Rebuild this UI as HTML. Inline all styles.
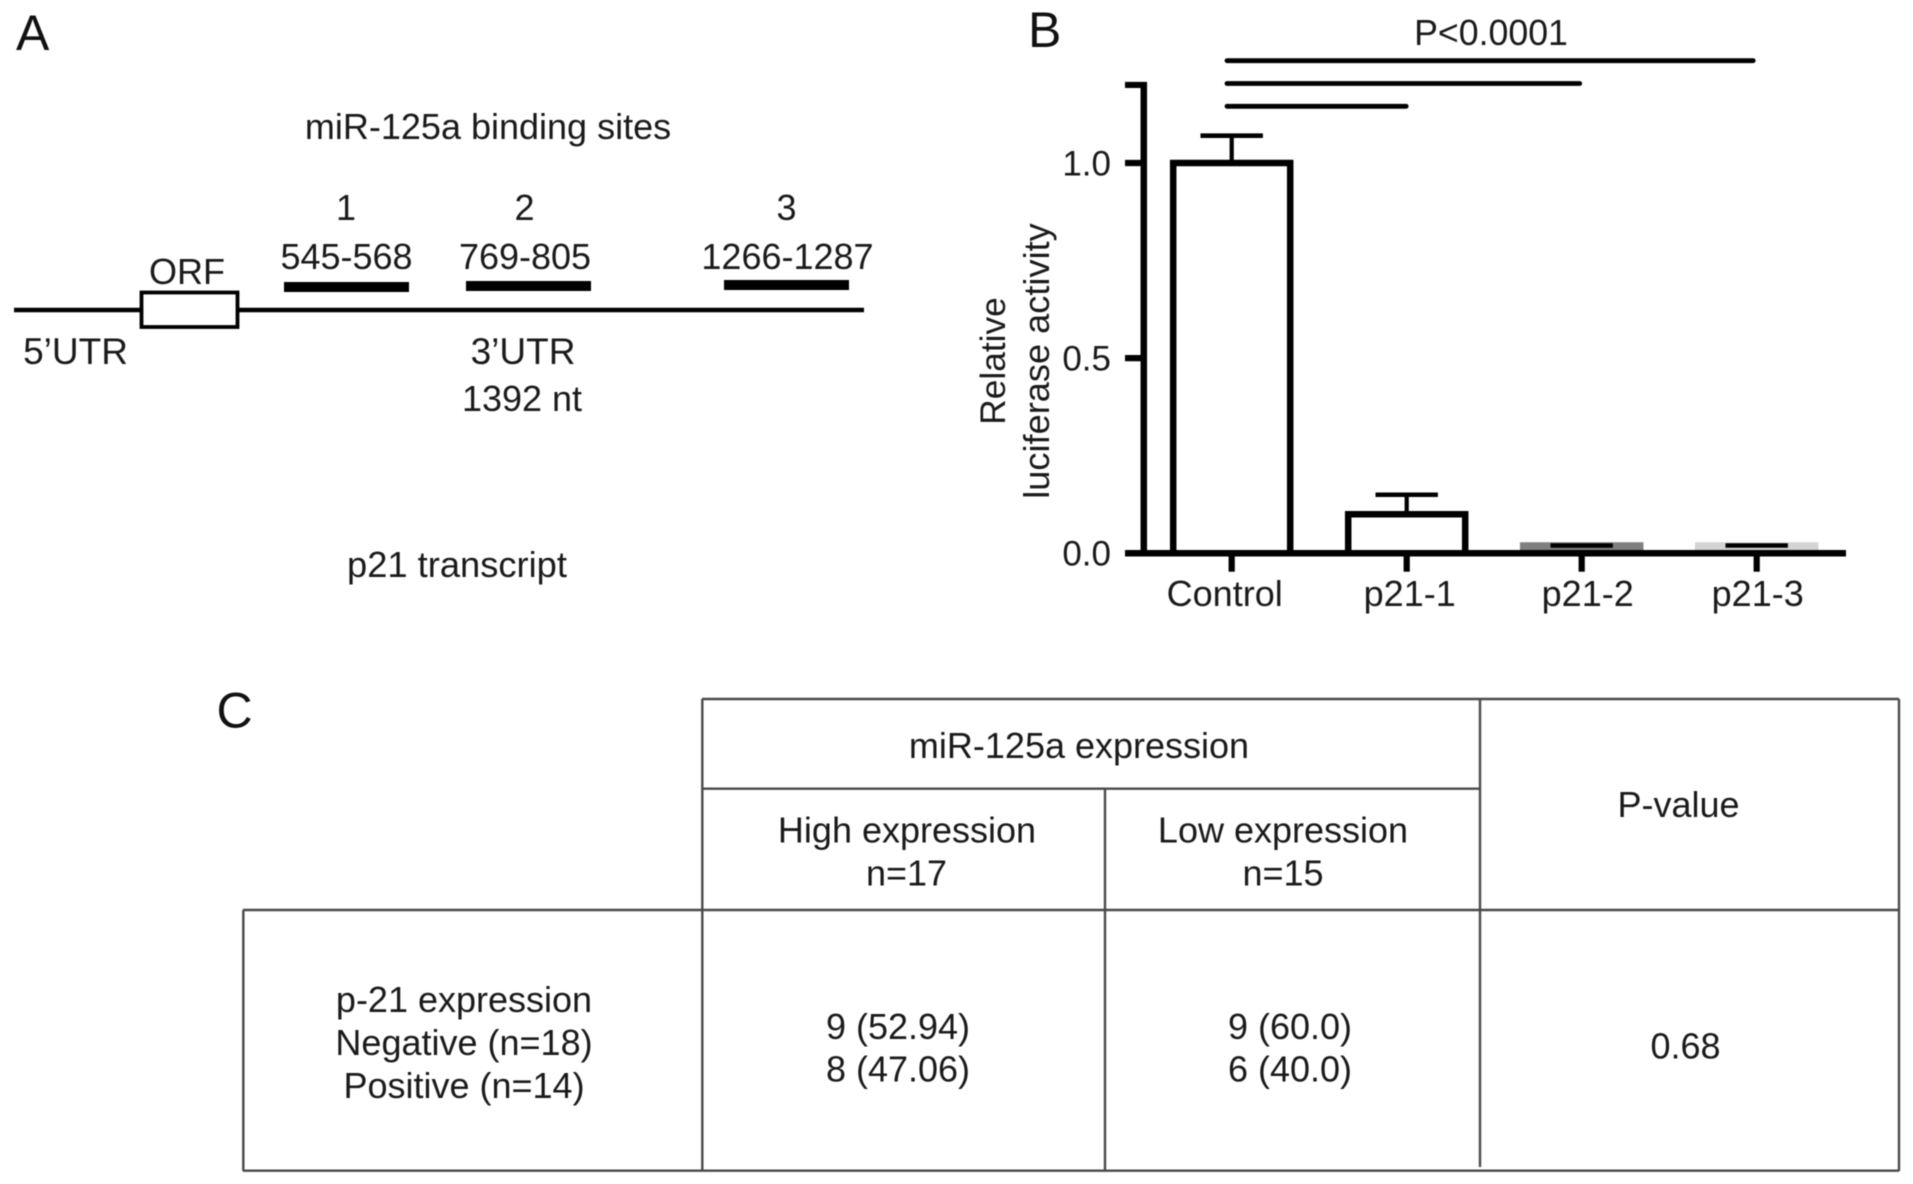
<!DOCTYPE html>
<html lang="en">
<head>
<meta charset="utf-8">
<title>miR-125a binding sites and p21 luciferase activity</title>
<style>
  html, body { margin: 0; padding: 0; background: #fff; }
  svg { display: block; filter: blur(0.5px); }
  text { font-family: "Liberation Sans", sans-serif; font-size: 36px; fill: #1a1a1a; text-anchor: middle; }
  .panel { font-size: 50px; text-anchor: start; fill: #111; }
  .tl { stroke: #4a4a4a; stroke-width: 2.4; fill: none; }
  .blk { stroke: #000; fill: none; }
</style>
</head>
<body>
<svg id="figure" xmlns="http://www.w3.org/2000/svg" width="1913" height="1184" viewBox="0 0 1913 1184">
  <rect width="1913" height="1184" fill="#fff"/>

  <!-- Panel A -->
  <g id="panel-a">
    <text class="panel" x="16" y="50">A</text>
    <text x="488" y="139">miR-125a binding sites</text>
    <text x="346" y="220">1</text>
    <text x="524.5" y="220">2</text>
    <text x="786.5" y="220">3</text>
    <text x="346.5" y="269">545-568</text>
    <text x="525" y="269">769-805</text>
    <text x="787.5" y="269">1266-1287</text>
    <text x="187" y="284">ORF</text>
    <rect x="284" y="282" width="125" height="10" fill="#000"/>
    <rect x="466" y="281" width="125" height="10" fill="#000"/>
    <rect x="724" y="280" width="125" height="10" fill="#000"/>
    <line class="blk" x1="14" y1="310" x2="864" y2="310" stroke-width="4.5"/>
    <rect x="141.5" y="292.5" width="96" height="34.5" fill="#fff" stroke="#000" stroke-width="3.8"/>
    <text x="75.5" y="364" style="font-size:37px">5’UTR</text>
    <text x="523" y="364" style="font-size:37px">3’UTR</text>
    <text x="522" y="411">1392 nt</text>
    <text x="457" y="577" style="font-size:36.3px">p21 transcript</text>
  </g>

  <!-- Panel B: drawn by script -->
  <g id="panel-b">
    <text class="panel" x="1028" y="47">B</text>
    <text x="1491" y="45" style="font-size:35.7px">P&lt;0.0001</text>
    <text transform="translate(1005,361) rotate(-90)" style="font-size:35.3px">Relative</text>
    <text transform="translate(1049,361) rotate(-90)" style="font-size:36.2px">luciferase activity</text>
  </g>

  <!-- Panel C -->
  <g id="panel-c">
    <text class="panel" x="216.5" y="727.5">C</text>
    <line class="tl" x1="702" y1="699" x2="1899" y2="699"/>
    <line class="tl" x1="702" y1="788.7" x2="1481" y2="788.7"/>
    <line class="tl" x1="243" y1="910" x2="1899" y2="910"/>
    <line class="tl" x1="243" y1="1170.7" x2="1899" y2="1170.7"/>
    <line class="tl" x1="243.3" y1="910" x2="243.3" y2="1171"/>
    <line class="tl" x1="702.3" y1="699" x2="702.3" y2="1171"/>
    <line class="tl" x1="1105" y1="788.7" x2="1105" y2="1171"/>
    <line class="tl" x1="1480" y1="699" x2="1480" y2="1167"/>
    <line class="tl" x1="1899" y1="699" x2="1899" y2="1171"/>

    <text x="1079" y="758">miR-125a expression</text>
    <text x="1678.5" y="817">P-value</text>
    <text x="907" y="842.5">High expression</text>
    <text x="906.5" y="885.5">n=17</text>
    <text x="1283" y="842.5">Low expression</text>
    <text x="1283" y="885.5">n=15</text>
    <text x="464" y="1012">p-21 expression</text>
    <text x="464" y="1055">Negative (n=18)</text>
    <text x="464" y="1098">Positive (n=14)</text>
    <text x="898" y="1039">9 (52.94)</text>
    <text x="898" y="1081.5">8 (47.06)</text>
    <text x="1290" y="1039">9 (60.0)</text>
    <text x="1290" y="1081.5">6 (40.0)</text>
    <text x="1685.5" y="1058.3">0.68</text>
  </g>
</svg>

<script>
const categories = ['Control', 'p21-1', 'p21-2', 'p21-3'];
const barValues = [1.0, 0.1, 0.02, 0.02];
const errorValues = [0.07, 0.05, 0, 0];
const yTickValues = [0, 0.5, 1.0];
const yTickLabels = ['0.0', '0.5', '1.0'];
const yAxisMax = 1.2;
const comparisons = ['p21-1', 'p21-2', 'p21-3'];

const barColors = ['#000', '#000', '#7f7f7f', '#d4d4d4'];
const barFills = ['#fff', '#fff', '#7f7f7f', '#d4d4d4'];
const labelNudge = [-7, 3, 6, 1];

const SVGNS = 'http://www.w3.org/2000/svg';
const panelB = document.getElementById('panel-b');

function xPos(i) { return 1231.7 + 175 * i; }
function yPos(v) { return 553.3 - 390.3 * v; }

function make(tag, attrs) {
  const el = document.createElementNS(SVGNS, tag);
  for (const k in attrs) el.setAttribute(k, attrs[k]);
  panelB.appendChild(el);
  return el;
}

// Bars
categories.forEach(function (cat, i) {
  const cx = xPos(i);
  const top = yPos(barValues[i]);
  const bar = make('path', {
    d: 'M' + (cx - 58.5) + ' ' + yPos(0) + 'V' + top + 'H' + (cx + 58.5) + 'V' + yPos(0) + 'Z',
    fill: barFills[i], stroke: barColors[i], 'stroke-width': 6.5, 'stroke-linejoin': 'miter'
  });
  
  
});

// Error bars
categories.forEach(function (cat, i) {
  const cx = xPos(i);
  const hi = yPos(barValues[i] + errorValues[i]);
  const stem = make('line', { x1: cx, x2: cx, y1: yPos(barValues[i]), y2: hi, stroke: '#000', 'stroke-width': 4.2 });
  
  
  const cap = make('line', { x1: cx - 31.2, x2: cx + 31.2, y1: hi, y2: hi, stroke: '#000', 'stroke-width': 4.6 });
  
  
});

// Y axis
const yAxisLine = make('line', { x1: 1143.8, x2: 1143.8, y1: yPos(yAxisMax) - 3, y2: yPos(0), stroke: '#000', 'stroke-width': 6.5 });



const yTopTick = make('line', { x1: 1125, x2: 1147, y1: yPos(yAxisMax), y2: yPos(yAxisMax), stroke: '#000', 'stroke-width': 6.2 });



yTickValues.forEach(function (v, i) {
  const tick = make('line', { x1: 1125, x2: 1147, y1: yPos(v), y2: yPos(v), stroke: '#000', 'stroke-width': 6.2 });
  
  
  const label = make('text', { x: 1111, y: yPos(v) + 12.3, style: 'text-anchor:end;font-size:35px' });
  label.textContent = yTickLabels[i];
  
  
});

// X axis
const xAxisLine = make('line', { x1: 1125, x2: 1846, y1: yPos(0), y2: yPos(0), stroke: '#000', 'stroke-width': 6.5 });



categories.forEach(function (cat, i) {
  const tick = make('line', { x1: xPos(i), x2: xPos(i), y1: yPos(0), y2: 571.7, stroke: '#000', 'stroke-width': 6.2 });
  
  
  const label = make('text', { x: xPos(i) + labelNudge[i], y: 606, style: 'font-size:36px' });
  label.textContent = cat;
  
  
});

// Significance lines
comparisons.forEach(function (target, i) {
  const y = 106.3 - 22.8 * i;
  const idx = categories.indexOf(target);
  const line = make('line', {
    x1: 1227, x2: xPos(idx) - 0.5 - 1.5 * (idx - 1), y1: y, y2: y,
    stroke: '#000', 'stroke-width': 4.8, 'stroke-linecap': 'round'
  });
  
  
});
</script>
</body>
</html>
